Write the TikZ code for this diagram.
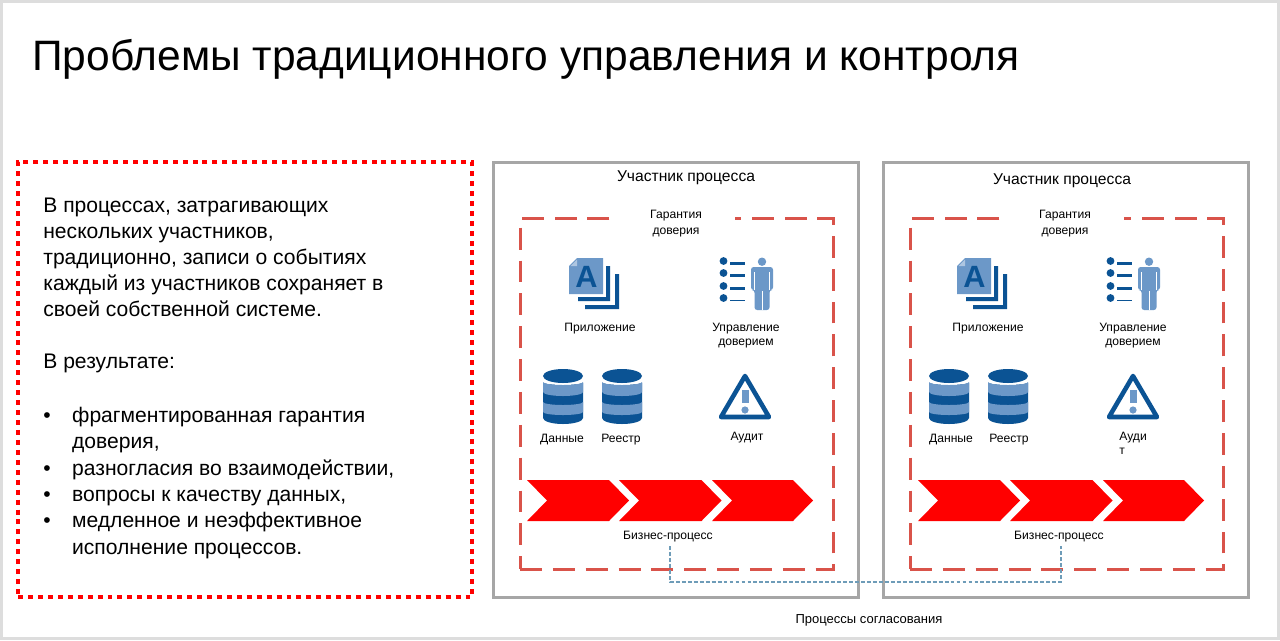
\documentclass[tikz,border=0pt]{standalone}
\usepackage{fontspec}
\setmainfont{Liberation Sans}
\usetikzlibrary{arrows.meta,calc,positioning}
\definecolor{PageGray}{HTML}{DDDDDD}
\definecolor{FrameGray}{HTML}{A6A6A6}
\definecolor{TrustRed}{HTML}{D9534A}
\definecolor{FlowRed}{HTML}{FF0000}
\definecolor{IconDark}{HTML}{0B5394}
\definecolor{IconLight}{HTML}{6C98C8}
\definecolor{SyncBlue}{HTML}{6E9CB8}
% icons, drawn around their own origin in pixels
\newcommand{\appicon}[2]{\begin{scope}[shift={(#1,#2)}]
  \fill[IconDark] (37,8) rectangle (41,43) (9,39) rectangle (41,43);
  \fill[IconDark] (46,16) rectangle (50,51) (16,47) rectangle (50,51);
  \fill[IconLight] (8,0) -- (34,0) -- (34,36) -- (0,36) -- (0,8) -- cycle;
  \fill[IconLight!55] (8,1.5) -- (8,8) -- (1.5,8) -- cycle;
  \node[font=\fontsize{17.5}{18}\bfseries\selectfont,text=IconDark,inner sep=0pt] (#1a) at (17.5,19) {A};
\end{scope}}
\newcommand{\manicon}[2]{\begin{scope}[shift={(#1,#2)}]
  \foreach \ypos/\wid in {0/3.2,12/2.6,25/2.2,37/1.6} {
    \fill[IconDark] (4.5,\ypos+3) circle (3.9);
    \fill[IconDark] (11,\ypos+5.5-\wid/2) rectangle (26,\ypos+5.5+\wid/2);
  }
  \fill[IconLight] (43,3.7) circle (4.2);
  \fill[IconLight,rounded corners=1.5pt] (32,32) -- (32,9) -- (54,9) -- (54,32) -- (50.5,32) -- (50.5,52) -- (35.5,52) -- (35.5,32) -- cycle;
  \draw[white,line width=0.25pt] (35.5,14) -- (35.5,32) (50.5,14) -- (50.5,32) (43,33) -- (43,52);
\end{scope}}
\newcommand{\dbicon}[2]{\begin{scope}[shift={(#1,#2)}]
  \fill[IconDark] (-20,14) -- (-20,49) arc[start angle=180,end angle=0,x radius=20,y radius=6] -- (20,14) -- cycle;
  \fill[white] (-20,7) -- (20,7) -- (20,13) arc[start angle=0,end angle=180,x radius=20,y radius=3] -- cycle;
  \fill[IconLight] (-20,13) arc[start angle=180,end angle=0,x radius=20,y radius=3] -- (20,23)
    arc[start angle=0,end angle=180,x radius=20,y radius=4] -- cycle;
  \fill[IconLight] (-20,33) arc[start angle=180,end angle=0,x radius=20,y radius=3] -- (20,43)
    arc[start angle=0,end angle=180,x radius=20,y radius=3] -- cycle;
  \fill[IconDark] (0,7) ellipse (20 and 7);
\end{scope}}
\newcommand{\auditicon}[2]{\begin{scope}[shift={(#1,#2)}]
  \draw[IconDark,line width=2.6pt,line join=round] (0,0) -- (24,41) -- (-24,41) -- cycle;
  \fill[IconLight] (-3.5,14) rectangle (3.5,27);
  \fill[IconLight] (0,34) circle (3.6);
\end{scope}}
\newcommand{\flowchain}[2]{\begin{scope}[shift={(#1,#2)}]
  \foreach \xpos/\wid in {0/82,92/82.5,185/81}
    \fill[FlowRed] (\xpos,0) -- (\xpos+\wid,0) -- (\xpos+\wid+20,20.5) -- (\xpos+\wid,41)
      -- (\xpos,41) -- (\xpos+20,20.5) -- cycle;
\end{scope}}
\begin{document}
\begin{tikzpicture}[x=0.02cm,y=-0.02cm,
    title/.style={font=\fontsize{24.2}{26}\selectfont,anchor=west,inner sep=0pt},
    bodytext/.style={font=\fontsize{12}{14.74}\selectfont,anchor=north west,align=left,inner sep=0pt},
    listtext/.style={bodytext,font=\fontsize{12}{14.97}\selectfont},
    label/.style={font=\fontsize{6.9}{8}\selectfont,align=center,inner sep=0pt},
    bigger/.style={font=\fontsize{8.9}{10}\selectfont,align=center,inner sep=0pt},
    notebox/.style={draw=FlowRed,line width=2.8pt,dash pattern=on 2.83pt off 2.83pt,anchor=north west,inner sep=0pt,outer sep=0pt},
    partybox/.style={draw=FrameGray,line width=1.7pt,anchor=north west,inner sep=0pt,outer sep=0pt,minimum width=365*0.02cm,minimum height=434.5*0.02cm},
    trustbox/.style={draw=TrustRed,line width=1.7pt,dash pattern=on 12.5pt off 6.2pt,anchor=north west,inner sep=0pt,outer sep=0pt,minimum width=313*0.02cm,minimum height=350.5*0.02cm},
    trustlabel/.style={label,fill=white,minimum width=117*0.02cm,minimum height=34*0.02cm},
    syncline/.style={draw=SyncBlue,line width=0.9pt,dash pattern=on 2.2pt off 1.2pt}
  ]
  \useasboundingbox (0,0) rectangle (1280,640);
  \fill[PageGray] (0,0) rectangle (1280,640);
  \fill[white] (3,3) rectangle (1277,637);

  \node[title] (heading) at (32,59) {Проблемы традиционного управления и контроля};

  \node[notebox,minimum width=454*0.02cm,minimum height=435*0.02cm] (note) at (18,162) {};
  \node[bodytext] (intro) at (43,198) {В процессах, затрагивающих\\нескольких участников,\\традиционно, записи о событиях\\каждый из участников сохраняет в\\своей собственной системе.\\[14.74pt]В результате:};
  \node[listtext] (issues) at (43,407) {\makebox[16.4pt][l]{•}фрагментированная гарантия\\\makebox[16.4pt][l]{}доверия,\\\makebox[16.4pt][l]{•}разногласия во взаимодействии,\\\makebox[16.4pt][l]{•}вопросы к качеству данных,\\\makebox[16.4pt][l]{•}медленное и неэффективное\\\makebox[16.4pt][l]{}исполнение процессов.};

  % left participant
  \node[partybox] (partyA) at (493.5,162.5) {};
  \node[bigger] (partyAname) at (686,178) {Участник процесса};
  \node[trustbox] (trustA) at (520,218.5) {};
  \node[trustlabel] (trustAname) at (676,223.5) {Гарантия\\[1pt]доверия};
  \appicon{569}{258}
  \manicon{719}{258}
  \dbicon{563}{369}
  \dbicon{622}{369}
  \auditicon{745}{376}
  \flowchain{527}{480}
  \node[label] (appA) at (600,329) {Приложение};
  \node[label] (manA) at (746,336) {Управление\\доверием};
  \node[label] (dataA) at (562,440) {Данные};
  \node[label] (ledgerA) at (621,440) {Реестр};
  \node[label] (auditA) at (747,438) {Аудит};
  \node[label] (flowA) at (668,537) {Бизнес-процесс};

  % right participant
  \node[partybox] (partyB) at (883.5,162.5) {};
  \node[bigger] (partyBname) at (1062,181) {Участник процесса};
  \node[trustbox] (trustB) at (910,218.5) {};
  \node[trustlabel] (trustBname) at (1065,223.5) {Гарантия\\[1pt]доверия};
  \appicon{957}{258}
  \manicon{1106}{258}
  \dbicon{949}{369}
  \dbicon{1008}{369}
  \auditicon{1133}{376}
  \flowchain{918}{480}
  \node[label] (appB) at (988,329) {Приложение};
  \node[label] (manB) at (1133,336) {Управление\\доверием};
  \node[label] (dataB) at (951,440) {Данные};
  \node[label] (ledgerB) at (1009,440) {Реестр};
  \node[label,align=left,anchor=north west] (auditB) at (1119,432) {Ауди\\т};
  \node[label] (flowB) at (1059,537) {Бизнес-процесс};

  \coordinate (syncA) at (670,546);
  \coordinate (syncB) at (1061,546);
  \draw[syncline] (syncA) -- ++(0,36) -| (syncB);
  \node[label,font=\fontsize{7.4}{8}\selectfont] (syncname) at (869,620) {Процессы согласования};
\end{tikzpicture}
\end{document}
